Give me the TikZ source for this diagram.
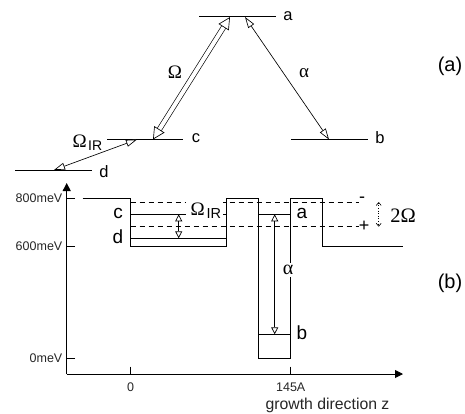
\documentclass[tikz,border=0pt]{standalone}
\usepackage{fontspec}
\setmainfont{Liberation Sans}
\newfontfamily\greekfont{Liberation Serif}
\usetikzlibrary{arrows.meta}
\newcommand{\omegaS}{{\greekfont\symbol{"03A9}}}
\newcommand{\alphaS}{{\greekfont\symbol{"03B1}}}
\tikzset{
  levelline/.style={line width=0.9pt},
  wellline/.style={line width=0.9pt},
  dashline/.style={line width=0.8pt,dash pattern=on 5pt off 4pt},
  openboth/.style={line width=0.65pt,{Triangle[fill=white,length=11pt,width=7pt]}-{Triangle[fill=white,length=11pt,width=7pt]}},
  smallboth/.style={line width=0.7pt,{Triangle[fill=white,length=7pt,width=7pt]}-{Triangle[fill=white,length=7pt,width=7pt]}},
  axisline/.style={line width=0.9pt,-{Triangle[length=8pt,width=8pt]}},
  ticklabel/.style={font=\fontsize{12.5}{14}\selectfont,text=black!85,inner sep=0pt},
  statelabel/.style={font=\fontsize{16.5}{18}\selectfont,inner sep=0pt},
  welllabel/.style={font=\fontsize{19}{20}\selectfont,inner sep=0pt},
  partlabel/.style={font=\fontsize{20}{22}\selectfont,inner sep=0pt},
  symlabel/.style={font=\fontsize{19}{20}\selectfont,inner sep=0pt},
}
\begin{document}
\begin{tikzpicture}[x=1pt,y=-1pt]
\useasboundingbox (0,0) rectangle (465,413);
% level scheme
\coordinate (aL) at (199,16.7);
\coordinate (aR) at (276,16.7);
\coordinate (cL) at (107,139.5);
\coordinate (cR) at (183,139.5);
\coordinate (dL) at (15,170);
\coordinate (dR) at (92,170);
\coordinate (bL) at (291,139.5);
\coordinate (bR) at (368,139.5);
\draw[levelline] (aL) -- (aR);
\draw[levelline] (cL) -- (cR);
\draw[levelline] (dL) -- (dR);
\draw[levelline] (bL) -- (bR);
\coordinate (aOmega) at (230,17);
\coordinate (cOmega) at (153,139.5);
\coordinate (aAlpha) at (245,17);
\coordinate (bAlpha) at (329,139.5);
\coordinate (cIR) at (137,139.5);
\coordinate (dIR) at (54,170);
\draw[line width=0.65pt,double,double distance=4pt,
  {Triangle[fill=white,length=12pt,width=12pt,line width=0.65pt]}-{Triangle[fill=white,length=12pt,width=12pt,line width=0.65pt]}] (cOmega) -- (aOmega);
\draw[openboth] (aAlpha) -- (bAlpha);
\draw[openboth] (cIR) -- (dIR);
\node[statelabel] (lblA) at (288,16) {a};
\node[statelabel] (lblB) at (380,138) {b};
\node[statelabel] (lblC) at (196,138) {c};
\node[statelabel] (lblD) at (104,172) {d};
\node[symlabel] (lblOmega) at (175,72) {\omegaS};
\node[symlabel] (lblAlpha) at (304,73) {\alphaS};
\node[symlabel,anchor=east] (lblOmegaIR) at (87,141) {\omegaS};
\node[font=\fontsize{14}{16}\selectfont,inner sep=0pt,anchor=west] (lblIR) at (88,146) {IR};
\node[partlabel] (lblPartA) at (450,66) {(a)};
% axes
\coordinate (origin) at (66.7,374);
\coordinate (yEnd) at (66.7,183);
\coordinate (xEnd) at (403,374);
\draw[axisline] (origin) -- (yEnd);
\draw[axisline] (origin) -- (xEnd);
\foreach \tickname/\ypos/\txt in {t800/198.5/800meV,t600/246.3/600meV,t0/358/0meV}{
  \coordinate (\tickname) at (75,\ypos);
  \draw[line width=0.8pt] (\tickname) -- (66.7,\ypos);
  \node[ticklabel,anchor=east] (\tickname lbl) at (62.5,\ypos) {\txt};
}
\foreach \tickname/\xpos/\txt in {z0/130.7/0,z145/290.7/145A}{
  \coordinate (\tickname) at (\xpos,366.7);
  \draw[line width=0.8pt] (\tickname) -- (\xpos,374);
  \node[ticklabel] (\tickname lbl) at (\xpos,387) {\txt};
}
\node[ticklabel,font=\fontsize{15.8}{17}\selectfont] (lblGrowth) at (327.5,405.5) {growth direction z};
% band profile
\draw[wellline] (82.7,198.5) -- (130.7,198.5) -- (130.7,246.3) -- (226.7,246.3)
  -- (226.7,198.5) -- (258.7,198.5) -- (258.7,358) -- (290.7,358)
  -- (290.7,198.5) -- (322.7,198.5) -- (322.7,246.3) -- (402.7,246.3);
\draw[dashline] (130.7,202.3) -- (359,202.3);
\draw[dashline] (130.7,226.3) -- (359,226.3);
\coordinate (cLeft) at (130.7,214.3);
\coordinate (cRight) at (226.7,214.3);
\coordinate (dLeft) at (130.7,238.3);
\coordinate (dRight) at (226.7,238.3);
\coordinate (aLeft) at (258.7,214.3);
\coordinate (aRight) at (290.7,214.3);
\coordinate (bLeft) at (258.7,334.3);
\coordinate (bRight) at (290.7,334.3);
\draw[levelline] (cLeft) -- (cRight);
\draw[levelline] (dLeft) -- (dRight);
\draw[levelline] (aLeft) -- (aRight);
\draw[levelline] (bLeft) -- (bRight);
\coordinate (irTop) at (178.7,214.3);
\coordinate (irBot) at (178.7,238.3);
\coordinate (alTop) at (274.7,214.3);
\coordinate (alBot) at (274.7,334.3);
\coordinate (rabiTop) at (378.7,202);
\coordinate (rabiBot) at (378.7,226.7);
\draw[smallboth] (irTop) -- (irBot);
\draw[smallboth] (alTop) -- (alBot);
\draw[line width=0.6pt,dotted,{Straight Barb[length=3pt,width=5pt]}-{Straight Barb[length=3pt,width=5pt]}] (rabiTop) -- (rabiBot);
% well labels
\node[welllabel] (wellC) at (118,213) {c};
\node[welllabel] (wellD) at (118,237) {d};
\node[welllabel] (wellA) at (302,213) {a};
\node[welllabel] (wellB) at (302,333) {b};
\node[fill=white,inner sep=1pt,minimum width=37pt,minimum height=24pt] (maskIR) at (204,210) {};
\node[symlabel,anchor=east] (wellOmega) at (205,209) {\omegaS};
\node[font=\fontsize{14.5}{16}\selectfont,inner sep=0pt,anchor=west] (wellIR) at (206.5,214) {IR};
\node[symlabel,font=\fontsize{20}{20}\selectfont,fill=white,inner xsep=1pt,inner ysep=2pt] (wellAlpha) at (288,270) {\alphaS};
\node[font=\fontsize{18}{20}\selectfont,inner sep=0pt] (lblMinus) at (362,200) {-};
\node[font=\fontsize{18}{20}\selectfont,inner sep=0pt] (lblPlus) at (364,226) {+};
\node[symlabel,font=\fontsize{20.5}{20}\selectfont\greekfont] (lblRabi) at (403,216) {2\omegaS};
\node[partlabel] (lblPartB) at (450,283) {(b)};
\end{tikzpicture}
\end{document}
